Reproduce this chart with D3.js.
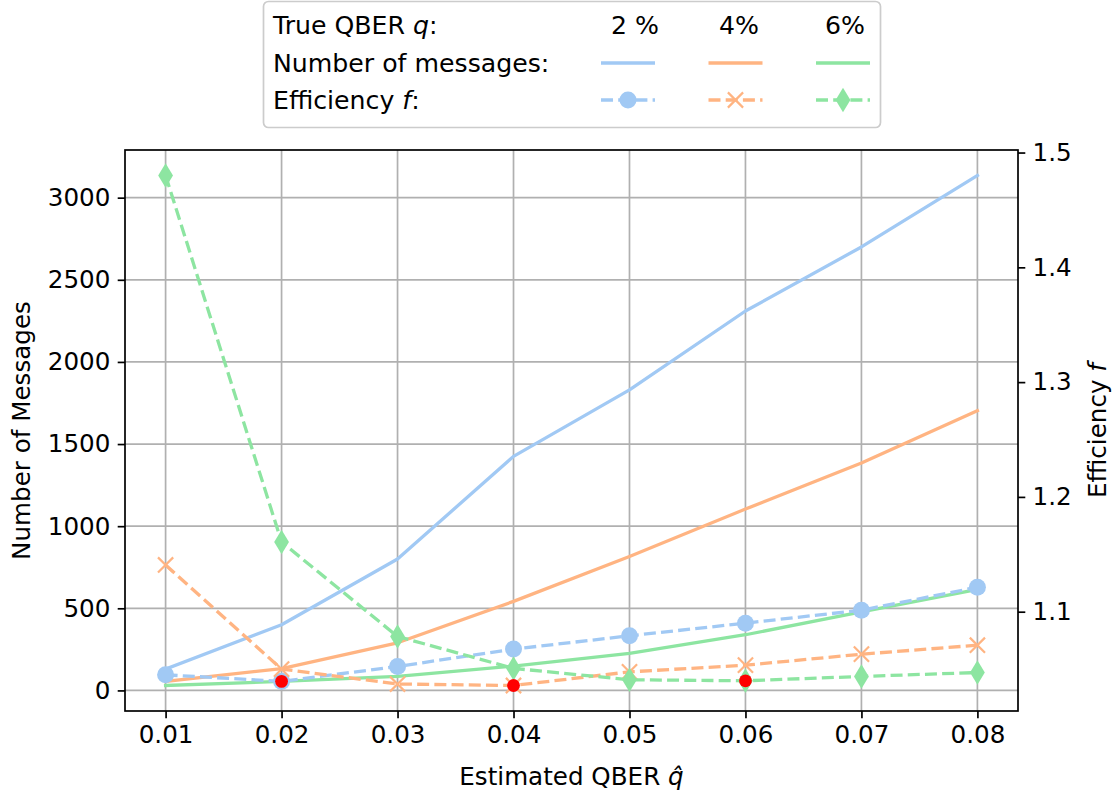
<!DOCTYPE html>
<html>
<head>
<meta charset="utf-8">
<script src="https://cdn.jsdelivr.net/npm/d3@7"></script>
<style>
  body { margin: 0; background: #fff; }
  svg { display: block; }
  text { font-family: "DejaVu Sans", sans-serif; fill: #000; }
</style>
</head>
<body>
<svg id="chart" width="1113" height="796"></svg>
<script>
// Estimated QBER values on the x axis
const qHat = [0.01, 0.02, 0.03, 0.04, 0.05, 0.06, 0.07, 0.08];

// Number of messages for each true QBER (left axis)
const messages2 = [130, 400, 800, 1425, 1830, 2310, 2700, 3135];
const messages4 = [55, 133, 290, 542, 815, 1104, 1385, 1703];
const messages6 = [30, 55, 85, 148, 225, 339, 478, 615];

// Efficiency f for each true QBER (right axis)
const efficiency2 = [1.0450, 1.0393, 1.0523, 1.0674, 1.0790, 1.0900, 1.1013, 1.1213];
const efficiency4 = [1.1407, 1.0500, 1.0370, 1.0357, 1.0476, 1.0534, 1.0630, 1.0708];
const efficiency6 = [1.4800, 1.1607, 1.0784, 1.0506, 1.0407, 1.0398, 1.0436, 1.0470];

// True QBER values (highlighted where estimate equals truth)
const trueQ = [0.02, 0.04, 0.06];
const seriesLabels = ["2 %", "4%", "6%"];
const seriesColors = ["#a1c9f4", "#ffb482", "#8de5a1"];
const markerShapes = ["circle", "x", "diamond"];

// Tick labels
const xTickValues = qHat;
const leftTickValues = [0, 500, 1000, 1500, 2000, 2500, 3000];
const rightTickValues = [1.1, 1.2, 1.3, 1.4, 1.5];

const messages = [messages2, messages4, messages6];
const efficiency = [efficiency2, efficiency4, efficiency6];

// ---- layout ----
const plot = { left: 125, right: 1018, top: 150, bottom: 711 };
const FONT = 24.6;
const LEGEND_FONT = 25.2;
const LW = 3.3;
const DASH = "12,5.2";
const TICK = 7.3;

// domain with 5% margins on each side
function padded(values) {
  const [lo, hi] = d3.extent(values);
  const m = (hi - lo) * 0.05;
  return [lo - m, hi + m];
}

const x = d3.scaleLinear().domain(padded(qHat)).range([plot.left, plot.right]);
const yLeft = d3.scaleLinear().domain(padded(messages.flat())).range([plot.bottom, plot.top]);
const yRight = d3.scaleLinear().domain(padded(efficiency.flat())).range([plot.bottom, plot.top]);

const svg = d3.select("#chart");

// clip to the axes area
svg.append("defs").append("clipPath").attr("id", "plotClip")
  .append("rect")
  .attr("x", plot.left).attr("y", plot.top)
  .attr("width", plot.right - plot.left).attr("height", plot.bottom - plot.top);

// ---- grid ----
const grid = svg.append("g").attr("class", "grid");
grid.selectAll("line.v").data(xTickValues).join("line")
  .attr("x1", d => x(d)).attr("x2", d => x(d))
  .attr("y1", plot.top).attr("y2", plot.bottom)
  .attr("stroke", "#b0b0b0").attr("stroke-width", 1.7);
grid.selectAll("line.h").data(leftTickValues).join("line")
  .attr("y1", d => yLeft(d)).attr("y2", d => yLeft(d))
  .attr("x1", plot.left).attr("x2", plot.right)
  .attr("stroke", "#b0b0b0").attr("stroke-width", 1.7);

// ---- number of messages (solid lines) ----
const lineLeft = d3.line().x((d, i) => x(qHat[i])).y(d => yLeft(d));
const msgLayer = svg.append("g").attr("clip-path", "url(#plotClip)");
messages.forEach((s, k) => {
  msgLayer.append("path").datum(s)
    .attr("d", lineLeft)
    .attr("fill", "none")
    .attr("stroke", seriesColors[k])
    .attr("stroke-width", LW)
    .attr("stroke-linejoin", "round")
    .attr("stroke-linecap", "square");
});

// ---- axes frame & ticks ----
function styleAxis(g) {
  g.select(".domain").remove();
  g.selectAll(".tick line").attr("stroke", "#000").attr("stroke-width", 1.7);
  g.selectAll(".tick text").attr("font-size", FONT).attr("font-family", "DejaVu Sans, sans-serif").attr("fill", "#000");
}

svg.append("g")
  .attr("transform", `translate(0,${plot.bottom})`)
  .call(d3.axisBottom(x).tickValues(xTickValues).tickFormat(d3.format(".2f")).tickSize(TICK).tickPadding(TICK))
  .call(styleAxis);

svg.append("g")
  .attr("transform", `translate(${plot.left},0)`)
  .call(d3.axisLeft(yLeft).tickValues(leftTickValues).tickFormat(d3.format("d")).tickSize(TICK).tickPadding(TICK))
  .call(styleAxis);

svg.append("g")
  .attr("transform", `translate(${plot.right},0)`)
  .call(d3.axisRight(yRight).tickValues(rightTickValues).tickFormat(d3.format(".1f")).tickSize(TICK).tickPadding(TICK))
  .call(styleAxis);

svg.append("rect")
  .attr("x", plot.left).attr("y", plot.top)
  .attr("width", plot.right - plot.left).attr("height", plot.bottom - plot.top)
  .attr("fill", "none").attr("stroke", "#000").attr("stroke-width", 1.7);

// ---- markers ----
function drawMarker(g, shape, cx, cy, color) {
  if (shape === "circle") {
    g.append("circle").attr("cx", cx).attr("cy", cy).attr("r", 8.5).attr("fill", color);
  } else if (shape === "x") {
    const h = 7.6;
    g.append("path")
      .attr("d", `M${cx - h},${cy - h}L${cx + h},${cy + h}M${cx - h},${cy + h}L${cx + h},${cy - h}`)
      .attr("stroke", color).attr("stroke-width", 2.2).attr("fill", "none");
  } else {
    const hh = 12.2, hw = 7.4;
    g.append("path")
      .attr("d", `M${cx},${cy - hh}L${cx + hw},${cy}L${cx},${cy + hh}L${cx - hw},${cy}Z`)
      .attr("fill", color);
  }
}

// ---- efficiency (dashed lines with markers) ----
const lineRight = d3.line().x((d, i) => x(qHat[i])).y(d => yRight(d));
const effLayer = svg.append("g");
efficiency.forEach((s, k) => {
  effLayer.append("path").datum(s)
    .attr("d", lineRight)
    .attr("fill", "none")
    .attr("stroke", seriesColors[k])
    .attr("stroke-width", LW)
    .attr("stroke-dasharray", DASH)
    .attr("stroke-linejoin", "round");
  s.forEach((v, i) => drawMarker(effLayer, markerShapes[k], x(qHat[i]), yRight(v), seriesColors[k]));
});

// efficiency at the true QBER
trueQ.forEach((q, k) => {
  const i = qHat.indexOf(q);
  effLayer.append("circle")
    .attr("cx", x(q)).attr("cy", yRight(efficiency[k][i]))
    .attr("r", 6.4).attr("fill", "#ff0000");
});

// ---- axis labels ----
svg.append("text")
  .attr("transform", `translate(30,${(plot.top + plot.bottom) / 2}) rotate(-90)`)
  .attr("text-anchor", "middle").attr("font-size", FONT)
  .text("Number of Messages");

const rLabel = svg.append("text")
  .attr("transform", `translate(1106,${(plot.top + plot.bottom) / 2}) rotate(-90)`)
  .attr("text-anchor", "middle").attr("font-size", FONT);
rLabel.append("tspan").text("Efficiency ");
rLabel.append("tspan").attr("font-style", "italic").text("f");

const xLabel = svg.append("text")
  .attr("x", (plot.left + plot.right) / 2).attr("y", 785)
  .attr("text-anchor", "middle").attr("font-size", FONT);
xLabel.append("tspan").text("Estimated QBER ");
xLabel.append("tspan").attr("font-style", "italic").text("q\u0302");

// ---- legend table ----
const legend = svg.append("g");
legend.append("rect")
  .attr("x", 263.5).attr("y", 1.5).attr("width", 617).attr("height", 126)
  .attr("rx", 5).attr("fill", "#fff").attr("stroke", "#cccccc").attr("stroke-width", 1.7);

const rowY = [25, 63, 100];
const colX = [628, 735.5, 843];
const headX = [635, 739, 845];
const sampleHalf = 27;

const r1 = legend.append("text").attr("x", 273).attr("y", rowY[0] + 9).attr("font-size", LEGEND_FONT);
r1.append("tspan").text("True QBER ");
r1.append("tspan").attr("font-style", "italic").text("q");
r1.append("tspan").text(":");

legend.append("text").attr("x", 273).attr("y", rowY[1] + 9).attr("font-size", LEGEND_FONT)
  .text("Number of messages:");

const r3 = legend.append("text").attr("x", 273).attr("y", rowY[2] + 9).attr("font-size", LEGEND_FONT);
r3.append("tspan").text("Efficiency ");
r3.append("tspan").attr("font-style", "italic").text("f");
r3.append("tspan").text(":");

seriesLabels.forEach((lab, k) => {
  legend.append("text").attr("x", headX[k]).attr("y", rowY[0] + 9)
    .attr("text-anchor", "middle").attr("font-size", LEGEND_FONT).text(lab);
  legend.append("line")
    .attr("x1", colX[k] - sampleHalf).attr("x2", colX[k] + sampleHalf)
    .attr("y1", rowY[1]).attr("y2", rowY[1])
    .attr("stroke", seriesColors[k]).attr("stroke-width", LW);
  legend.append("line")
    .attr("x1", colX[k] - sampleHalf).attr("x2", colX[k] + sampleHalf)
    .attr("y1", rowY[2]).attr("y2", rowY[2])
    .attr("stroke", seriesColors[k]).attr("stroke-width", LW)
    .attr("stroke-dasharray", DASH);
  drawMarker(legend, markerShapes[k], colX[k], rowY[2], seriesColors[k]);
});
</script>
</body>
</html>
